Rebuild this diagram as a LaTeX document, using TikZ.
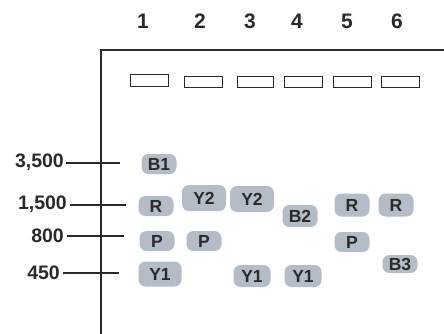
\documentclass[tikz,border=0pt]{standalone}
\usepackage{fontspec}
\setmainfont{Liberation Sans}
\definecolor{ink}{HTML}{2A2A2A}
\definecolor{bandgray}{HTML}{B4BDC7}
\tikzset{
  gelline/.style={draw=ink, line width=1.1pt},
  well/.style={draw=ink, line width=1pt},
  lanenum/.style={text=ink, font=\fontsize{21}{21}\selectfont\bfseries},
  marker/.style={text=ink, font=\fontsize{19.5}{19.5}\selectfont\bfseries, anchor=east, inner sep=0pt},
  band/.style={fill=bandgray, text=ink, rounded corners=7pt, minimum width=35pt, minimum height=20pt,
    inner sep=0pt, font=\fontsize{17.5}{17.5}\selectfont\bfseries},
}
\begin{document}
\begin{tikzpicture}[x=1pt, y=-1pt]
		\useasboundingbox (0,0) rectangle (444,334);
		
		% lane numbers
		\node[lanenum] (n1) at (143,21) {1};
		\node[lanenum] (n2) at (200,21) {2};
		\node[lanenum] (n3) at (250,21) {3};
		\node[lanenum] (n4) at (297,21) {4};
		\node[lanenum] (n5) at (347,21) {5};
		\node[lanenum] (n6) at (397,21) {6};
		
		% gel frame and wells
		\draw[gelline] (101,334) -- (101,50) -- (444,50);
		\draw[well] (130,75) rectangle (168,87);
		\draw[well] (184,77) rectangle (222,88);
		\draw[well] (237,77) rectangle (273,88);
		\draw[well] (284,77) rectangle (322,88);
		\draw[well] (333,77) rectangle (371,88);
		\draw[well] (381,77) rectangle (419,88);
		
		% size markers
		\node[marker] (m3500) at (64,162) {3,500};
		\node[marker] (m1500) at (67,204) {1,500};
		\node[marker] (m800) at (64,236) {800};
		\node[marker] (m450) at (60,273) {450};
		\coordinate (t3500) at (120,163);
		\coordinate (t1500) at (126,205);
		\coordinate (t800) at (124,236);
		\coordinate (t450) at (119,273);
		\draw[gelline] ([xshift=2pt]m3500.east |- t3500) -- (t3500);
		\draw[gelline] ([xshift=3pt]m1500.east |- t1500) -- (t1500);
		\draw[gelline] ([xshift=3pt]m800.east |- t800) -- (t800);
		\draw[gelline] ([xshift=3pt]m450.east |- t450) -- (t450);
		
		% bands
		\node[band] (B1) at (159,164) {B1};
		\node[band] (R1) at (156,206) {R};
		\node[band] (P1) at (157,241) {P};
		\node[band, minimum width=43pt, minimum height=25pt] (Y1a) at (160,274) {Y1};
		\node[band, minimum width=44pt, minimum height=26pt] (Y2a) at (204,198) {Y2};
		\node[band] (P2) at (204,241) {P};
		\node[band, minimum width=44pt, minimum height=26pt] (Y2b) at (252,199) {Y2};
		\node[band, minimum width=37pt, minimum height=22pt] (Y1b) at (252,276) {Y1};
		\node[band, minimum height=22pt] (B2) at (300,216) {B2};
		\node[band, minimum width=37pt, minimum height=22pt] (Y1c) at (303,276) {Y1};
		\node[band, minimum height=23pt] (R5) at (352,205) {R};
		\node[band] (P5) at (352,242) {P};
		\node[band, minimum height=23pt] (R6) at (396,205) {R};
		\node[band, minimum height=18pt] (B3) at (400,264) {B3};
		
	\end{tikzpicture}
\end{document}
